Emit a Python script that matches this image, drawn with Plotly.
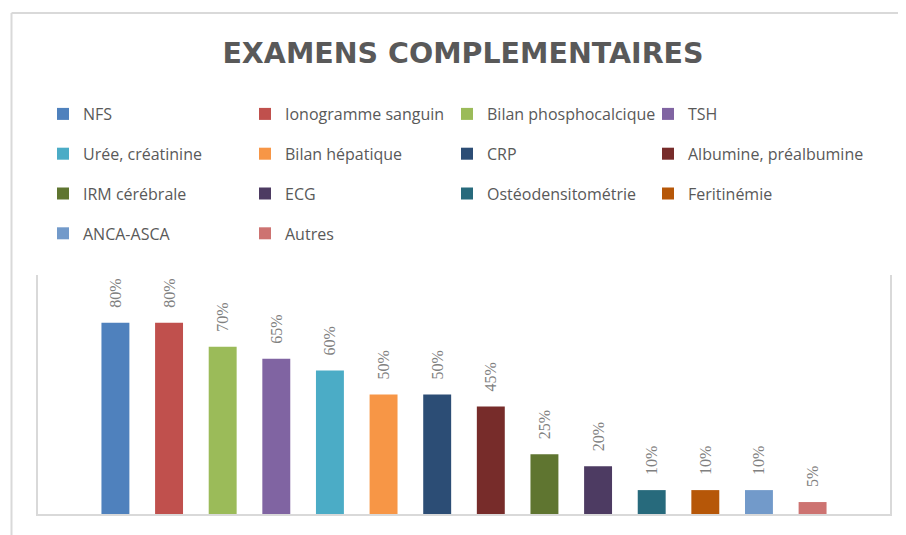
import plotly.graph_objects as go

categories = ["Examens"]
series_names = [
    "NFS", "Ionogramme sanguin", "Bilan phosphocalcique", "TSH",
    "Urée, créatinine", "Bilan hépatique", "CRP", "Albumine, préalbumine",
    "IRM cérébrale", "ECG", "Ostéodensitométrie", "Feritinémie",
    "ANCA-ASCA", "Autres",
]
series_values = [80, 80, 70, 65, 60, 50, 50, 45, 25, 20, 10, 10, 10, 5]
series_colors = [
    "#4F81BD", "#C0504D", "#9BBB59", "#8064A2",
    "#4BACC6", "#F79646", "#2C4D75", "#772C2A",
    "#5F7530", "#4D3B62", "#276A7C", "#B65708",
    "#729ACA", "#CD7371",
]

# The page body has an 8px default margin: work in page pixels, then shift.
OFF = 8
W, H = 906 - OFF, 535 - OFF
L, R, T, B = 37.5 - OFF, 890 - OFF, 275 - OFF, 514 - OFF

fig = go.Figure()
legend_ids = ["legend", "legend2", "legend3", "legend4"]
for i, (name, val, col) in enumerate(zip(series_names, series_values, series_colors)):
    fig.add_trace(go.Bar(
        x=categories, y=[val], name=name,
        marker=dict(color=col, line=dict(width=0)),
        text=[val], texttemplate="\u00a0\u00a0\u00a0%{y}%",
        textposition="outside", textangle=-90, constraintext="none",
        textfont=dict(family="Liberation Serif", size=16, color="#808080"),
        cliponaxis=False,
        legend=legend_ids[i % 4], legendgroup=name,
    ))

col_text_x = [83, 285, 487, 688]
legend_top = 97
legend_common = dict(
    orientation="v", xref="container", yref="container",
    xanchor="left", yanchor="top",
    y=1 - (legend_top - OFF) / H,
    font=dict(family="Open Sans", size=16, color="#595959"),
    itemwidth=30, bgcolor="rgba(0,0,0,0)", borderwidth=0,
    traceorder="grouped", tracegroupgap=16,
)
legends = {}
for k, lid in enumerate(legend_ids):
    legends[lid] = dict(legend_common, x=(col_text_x[k] - 40 - OFF) / W)

pw = R - L
ph = B - T
def px_x(p):
    return (p - OFF - L) / pw
def px_y(p):
    return (B - (p - OFF)) / ph

fig.update_layout(
    width=W, height=H,
    margin=dict(l=L, r=W - R, t=T, b=H - B, autoexpand=False),
    paper_bgcolor="white", plot_bgcolor="white",
    barmode="group", bargap=0.1188, bargroupgap=0.479,
    showlegend=True,
    title=dict(
        text="EXAMENS COMPLEMENTAIRES",
        font=dict(family="DejaVu Sans", size=28.5, color="#595959", weight="bold"),
        x=(463 - OFF) / W, xanchor="center", xref="container",
        y=1 - (53 - OFF) / H, yanchor="middle", yref="container",
    ),
    xaxis=dict(range=[-0.5, 0.5], showticklabels=False, ticks="",
               showgrid=False, zeroline=False,
               showline=True, linecolor="#d9d9d9", linewidth=2),
    yaxis=dict(range=[0, 100], showticklabels=False, ticks="",
               showgrid=False, zeroline=False,
               showline=True, mirror=True, linecolor="#d9d9d9", linewidth=2),
    shapes=[
        dict(type="line", xref="paper", yref="paper",
             x0=px_x(11), x1=px_x(926), y0=px_y(13), y1=px_y(13),
             line=dict(color="#d9d9d9", width=2)),
        dict(type="line", xref="paper", yref="paper",
             x0=px_x(11), x1=px_x(11), y0=px_y(13), y1=px_y(560),
             line=dict(color="#d9d9d9", width=2)),
    ],
    **legends,
)

fig.write_html("out.html")
